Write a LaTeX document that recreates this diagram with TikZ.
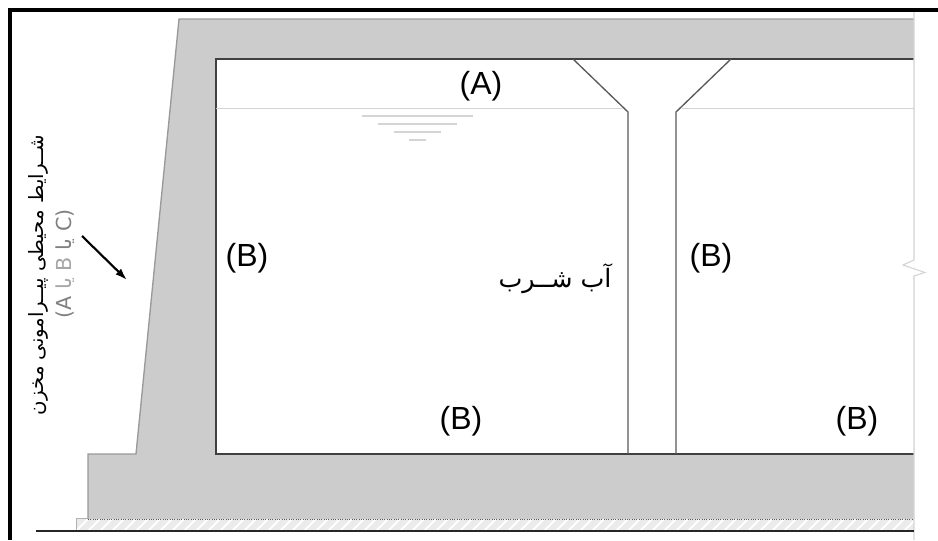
\documentclass[tikz,border=0pt]{standalone}
\usepackage{fontspec}
\setmainfont{Liberation Sans}
\newfontfamily\arabicfont[Script=Arabic]{DejaVu Sans}
\TeXXeTstate=1
\usetikzlibrary{arrows.meta}
\tikzset{>={Latex[length=9pt,width=6pt]}}
\definecolor{concrete}{HTML}{CCCCCC}
\definecolor{faint}{HTML}{D4D4D4}
\tikzset{
  tag/.style={font=\fontsize{24}{26}\selectfont, inner sep=0pt},
  farsi/.style={font=\arabicfont\fontsize{14.8}{16}\selectfont, inner sep=0pt, rotate=90},
}
\begin{document}
\begin{tikzpicture}[x=0.75pt,y=-0.75pt]
      \useasboundingbox (0,0) rectangle (938,540);
      % blinding under the footing
      \fill[black!8] (76,519) rectangle (914,531);
      \begin{scope}
        \clip (76,519) rectangle (914,531);
        \foreach \x in {76,88,...,920}
          \draw[white,line width=1.5pt] (\x,531) -- (\x+12,519);
      \end{scope}
      \draw[gray!60,line width=0.6pt] (76,531) -- (76,518) -- (914,518);
      % concrete body
      \fill[concrete] (179,19) -- (914,19) -- (914,519) -- (88,519) -- (88,454) -- (136,454) -- cycle;
      \draw[gray!80,line width=1pt] (914,19) -- (179,19) -- (136,454) -- (88,454) -- (88,519);
      \draw[gray!70!black,densely dotted,line width=0.75pt] (88,519) -- (914,519);
      % tank interior
      \fill[white] (216,59) rectangle (914,454);
      \draw[black!75,line width=1.3pt] (914,59) -- (216,59) -- (216,454) -- (914,454);
      % central wall with haunches
      \draw[black!65,line width=1pt] (573,59) -- (628,112) -- (628,454);
      \draw[black!65,line width=1pt] (731,59) -- (676,112) -- (676,454);
      % water level
      \draw[faint,line width=0.7pt] (216,108) -- (622,108);
      \draw[faint,line width=0.7pt] (682,108) -- (914,108);
      \foreach \y/\xa/\xb in {116/362/473, 124/378/457, 132/394/441, 140/409/426}
        \draw[faint,line width=0.8pt] (\xa,\y) -- (\xb,\y);
      % break line on the right
      \draw[faint,line width=0.8pt] (914,12) -- (914,260) -- (903,265) -- (925,272.5) -- (914,276) -- (914,540);
      % ground
      \draw[black!85,line width=1.1pt] (36,531) -- (914,531);
      % frame
      \fill[black] (8,8) rectangle (938,12);
      \fill[black] (8,8) rectangle (12,540);
      % labels
      \node[tag] (tagA) at (481,86) {(A)};
      \node[tag] (tagBa) at (247,258) {(B)};
      \node[tag] (tagBb) at (711,258) {(B)};
      \node[tag] (tagBc) at (461,421) {(B)};
      \node[tag] (tagBd) at (857,421) {(B)};
      \node[inner sep=0pt, font=\arabicfont\fontsize{19}{22}\selectfont] (water) at (555,279) {\beginR آب شــرب\endR};
      \node[farsi] (ambient) at (38,275) {\beginR شــرایط محیطی پیــرامونی مخزن\endR};
      \node[farsi, text=gray, font=\arabicfont\fontsize{15.5}{17}\selectfont] (classes) at (65,264) {\beginL (A \textcolor{gray!70}{\beginR یا\endR} \textcolor{gray!70}{B} \beginR یا\endR{} C)\endL};
      \coordinate (arrowstart) at (82,236);
      \coordinate (arrowend) at (127,280);
      \draw[->,line width=1.6pt] (arrowstart) -- (arrowend);
\end{tikzpicture}
\end{document}
